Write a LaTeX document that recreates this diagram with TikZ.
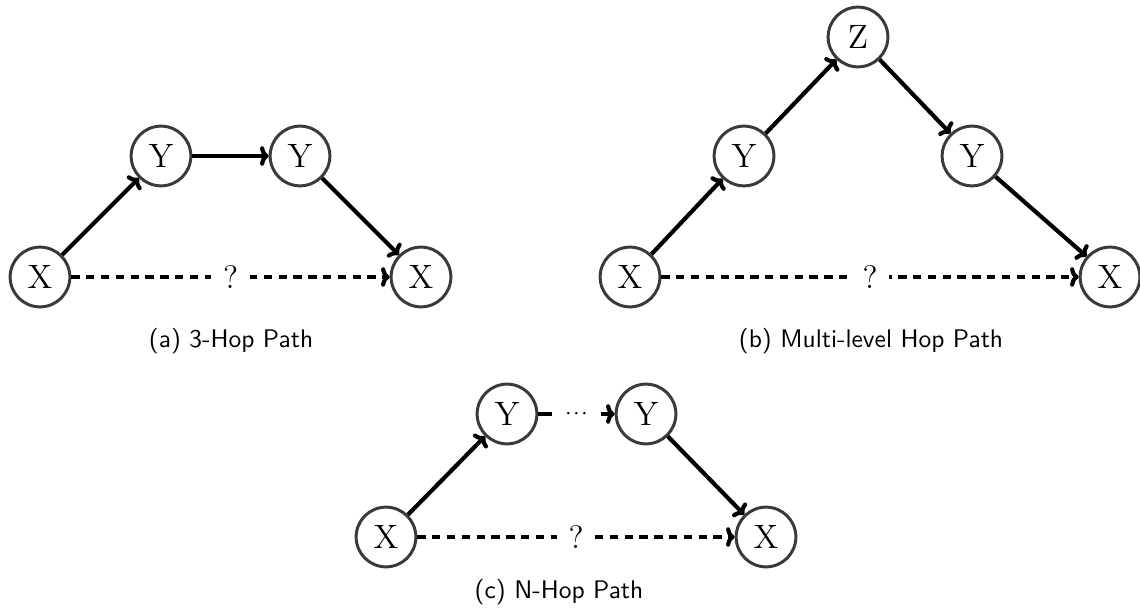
\documentclass[tikz,border=0pt]{standalone}
\usetikzlibrary{arrows.meta}
\definecolor{ringgray}{HTML}{3A3A3A}
\begin{document}
\begin{tikzpicture}[
  x=0.385pt, y=-0.385pt,
  var/.style={circle, draw=ringgray, line width=1.15pt, minimum size=23pt, inner sep=0pt,
              font=\fontsize{13}{15}\selectfont},
  hop/.style={line width=1.6pt, -{To[length=3.3pt,width=7.5pt]}},
  guess/.style={hop, dash pattern=on 3.2pt off 2.5pt},
  qmark/.style={fill=white, inner sep=4.5pt, font=\fontsize{12.5}{15}\selectfont},
  subcaption/.style={font=\fontsize{9.8}{12}\sffamily}
]
\useasboundingbox (0,0) rectangle (1140,614);

% (a) three-hop path
\node[var] (a1) at (40,277) {X};
\node[var] (a2) at (161,156) {Y};
\node[var] (a3) at (300,156) {Y};
\node[var] (a4) at (421,277) {X};
\draw[hop] (a1) -- (a2);
\draw[hop] (a2) -- (a3);
\draw[hop] (a3) -- (a4);
\draw[guess] (a1) -- node[qmark] (aq) {?} (a4);
\node[subcaption] (acap) at (231,341) {(a) 3-Hop Path};

% (b) multi-level hop path
\node[var] (b1) at (630,277) {X};
\node[var] (b2) at (744,156) {Y};
\node[var] (b3) at (858,37) {Z};
\node[var] (b4) at (972,156) {Y};
\node[var] (b5) at (1110,277) {X};
\draw[hop] (b1) -- (b2);
\draw[hop] (b2) -- (b3);
\draw[hop] (b3) -- (b4);
\draw[hop] (b4) -- (b5);
\draw[guess] (b1) -- node[qmark] (bq) {?} (b5);
\node[subcaption] (bcap) at (871,341) {(b) Multi-level Hop Path};

% (c) N-hop path
\node[var] (c1) at (386,537) {X};
\node[var] (c2) at (507,414) {Y};
\node[var] (c3) at (646,414) {Y};
\node[var] (c4) at (766,537) {X};
\draw[hop] (c1) -- (c2);
\draw[hop] (c2) -- node[fill=white, inner sep=5pt, font=\fontsize{9}{11}\selectfont] (cdots) {$\cdot\!\cdot\!\cdot$} (c3);
\draw[hop] (c3) -- (c4);
\draw[guess] (c1) -- node[qmark] (cq) {?} (c4);
\node[subcaption] (ccap) at (559,592) {(c) N-Hop Path};
\end{tikzpicture}
\end{document}
